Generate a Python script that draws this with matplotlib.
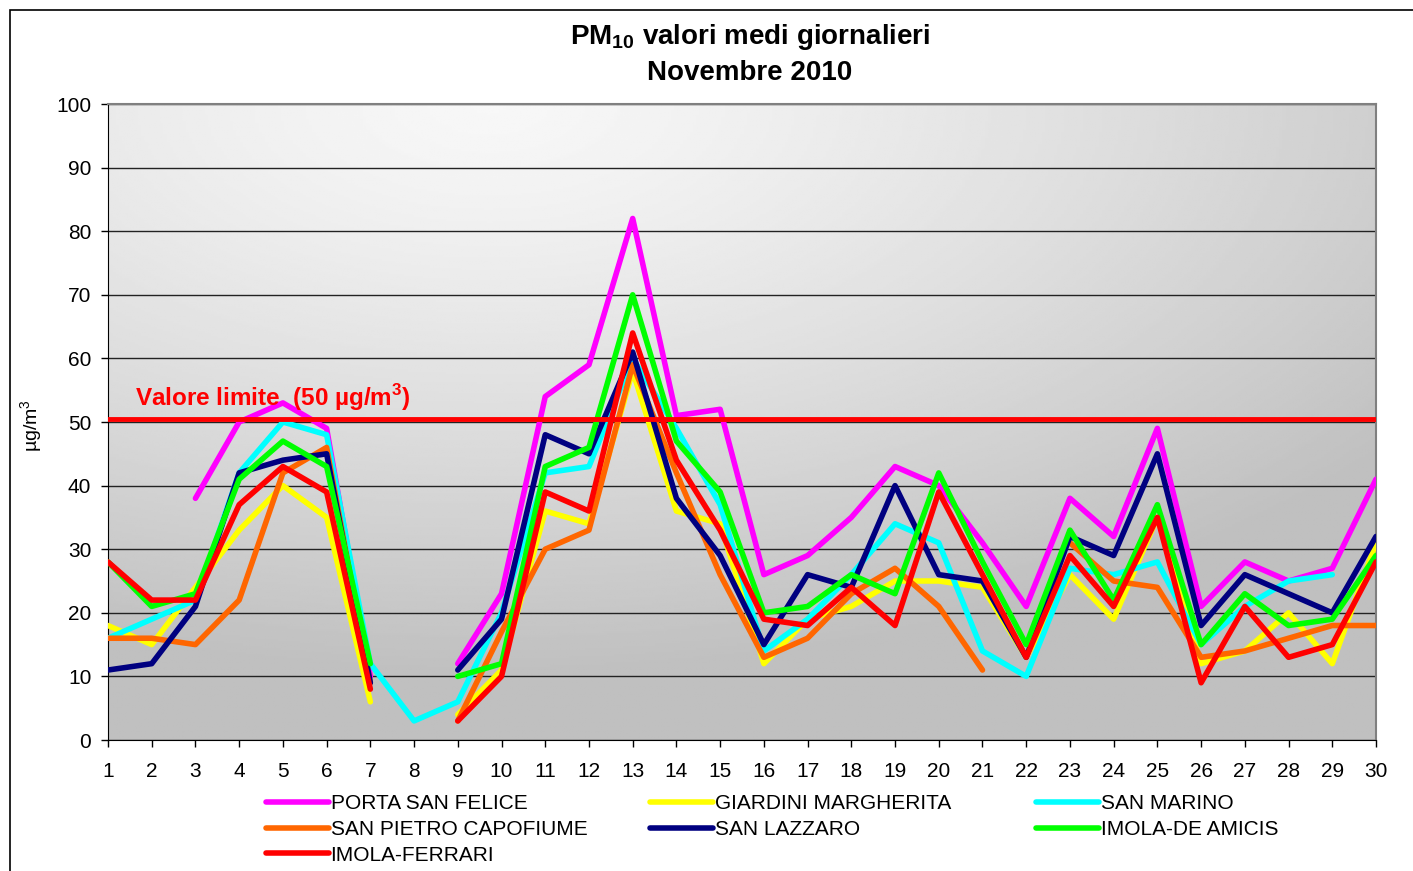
import numpy as np
import matplotlib.pyplot as plt
from matplotlib.patches import Rectangle

plt.rcParams['font.family'] = ['Liberation Sans', 'DejaVu Sans']
plt.rcParams['mathtext.fontset'] = 'custom'
plt.rcParams['mathtext.rm'] = 'Liberation Sans'
plt.rcParams['mathtext.bf'] = 'Liberation Sans:bold'

nan = np.nan
days = np.arange(1, 31)

porta_san_felice = [nan, nan, 38, 50, 53, 49, 10, nan, 12, 23, 54, 59, 82, 51, 52,
                    26, 29, 35, 43, 40, 31, 21, 38, 32, 49, 21, 28, 25, 27, 41]
giardini_margherita = [18, 15, 24, 33, 40, 35, 6, nan, 4, 11, 36, 34, 58, 36, 34,
                       12, 19, 21, 25, 25, 24, 13, 26, 19, 35, 12, 14, 20, 12, 31]
san_marino = [16, 19, 22, 42, 50, 48, 12, 3, 6, 20, 42, 43, 60, 49, 37,
              14, 19, 26, 34, 31, 14, 10, 27, 26, 28, 15, 21, 25, 26, nan]
san_pietro_capofiume = [16, 16, 15, 22, 42, 46, 9, nan, 3, 17, 30, 33, 59, 42, 26,
                        13, 16, 23, 27, 21, 11, nan, 31, 25, 24, 13, 14, 16, 18, 18]
san_lazzaro = [11, 12, 21, 42, 44, 45, 9, nan, 11, 19, 48, 45, 61, 38, 29,
               15, 26, 24, 40, 26, 25, 13, 32, 29, 45, 18, 26, 23, 20, 32]
imola_de_amicis = [28, 21, 23, 41, 47, 43, 12, nan, 10, 12, 43, 46, 70, 47, 39,
                   20, 21, 26, 23, 42, 28, 15, 33, 22, 37, 15, 23, 18, 19, 29]
imola_ferrari = [28, 22, 22, 37, 43, 39, 8, nan, 3, 10, 39, 36, 64, 44, 33,
                 19, 18, 24, 18, 39, 26, 13, 29, 21, 35, 9, 21, 13, 15, 28]

stations = ['PORTA SAN FELICE', 'GIARDINI MARGHERITA', 'SAN MARINO',
            'SAN PIETRO CAPOFIUME', 'SAN LAZZARO', 'IMOLA-DE AMICIS', 'IMOLA-FERRARI']
series = [porta_san_felice, giardini_margherita, san_marino,
          san_pietro_capofiume, san_lazzaro, imola_de_amicis, imola_ferrari]
colors = ['#ff00ff', '#ffff00', '#00ffff', '#ff6600', '#000080', '#00ff00', '#ff0000']

limit = 50

W, H = 1413, 871
fig = plt.figure(figsize=(W / 100, H / 100), dpi=100)
ax = fig.add_axes([108 / W, 131 / H, 1268 / W, 636 / H])

# grey gradient background of the plot area
gx, gy = np.meshgrid(np.linspace(0, 1, 400), np.linspace(0, 1, 300))
t = np.clip(np.hypot((gx - 0.3) / 0.9, gy / 0.9), 0, 1)
shade = 0.97 - 0.22 * t ** 1.3
ax.imshow(shade, cmap='gray', vmin=0, vmax=1, extent=[1, 30, 0, 100],
          aspect='auto', origin='upper', zorder=0)

handles = []
for name, vals, c in zip(stations, series, colors):
    h, = ax.plot(days, vals, color=c, lw=4, solid_capstyle='round',
                 solid_joinstyle='round', label=name, zorder=3)
    handles.append(h)

ax.axhline(limit + 0.4, color='#ff0000', lw=3.5, zorder=4)
ax.text(1.62, 52.6, r'Valore limite  (50 µg/m$^\mathbf{3}$)', color='#ff0000',
        fontweight='bold', fontsize=17.5, zorder=5)

ax.set_xlim(1, 30)
ax.set_ylim(0, 100)
ax.set_xticks(days)
ax.set_yticks(range(0, 101, 10))
ax.tick_params(direction='out', length=5, width=1, labelsize=15)
ax.tick_params(axis='x', pad=11)
ax.tick_params(axis='y', pad=7)
ax.set_axisbelow(True)
ax.grid(axis='y', color='#222222', lw=1)
for s in ['top', 'right']:
    ax.spines[s].set_color('#808080')
    ax.spines[s].set_linewidth(1.5)

fig.text(750 / W, 1 - 37 / H, r'PM$_{\mathbf{10}}$ valori medi giornalieri',
         ha='center', va='center', fontsize=20, fontweight='bold')
fig.text(750 / W, 1 - 73 / H, 'Novembre 2010',
         ha='center', va='center', fontsize=20, fontweight='bold')
fig.text(32 / W, 1 - 426 / H, r'µg/m$^3$', rotation=90, ha='center', va='center',
         fontsize=14)

# one legend per column, placed like the original
cols = [[0, 3, 6], [1, 4], [2, 5]]
col_x = [266, 650, 1036]
for idx, x0 in zip(cols, col_x):
    fig.legend([handles[i] for i in idx], [stations[i] for i in idx],
               loc='upper left', bbox_to_anchor=(x0 / W, 1 - 794 / H),
               frameon=False, fontsize=15, handlelength=3.0, handletextpad=0.1,
               labelspacing=0.33, borderpad=0, borderaxespad=0)

fig.patches.append(Rectangle((10 / W, -0.05), 1.0, 1.05 - 10 / H, fill=False,
                             edgecolor='black', lw=1.2, transform=fig.transFigure))

fig.savefig('out.png', dpi=100)
